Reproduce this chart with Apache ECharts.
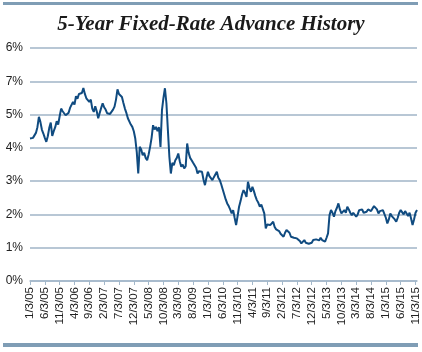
<!DOCTYPE html>
<html>
<head>
<meta charset="utf-8">
<script src="https://cdn.jsdelivr.net/npm/echarts@6/dist/echarts.min.js"></script>
<style>
  html, body { margin: 0; padding: 0; background: #fff; }
  #chart { width: 422px; height: 352px; }
</style>
</head>
<body>
<div id="chart"></div>
<script>
// y tick labels as printed on the original (note the 7%/6% order)
var yTickLabels = ['0%', '1%', '2%', '3%', '4%', '5%', '7%', '6%']

// x tick labels, every 5 months
var xTickLabels = ['1/3/05', '6/3/05', '11/3/05', '4/3/06', '9/3/06', '2/3/07', '7/3/07',
  '12/3/07', '5/3/08', '10/3/08', '3/3/09', '8/3/09', '1/3/10', '6/3/10', '11/3/10',
  '4/3/11', '9/3/11', '2/3/12', '7/3/12', '12/3/12', '5/3/13', '10/3/13', '3/3/14',
  '8/3/14', '1/3/15', '6/3/15', '11/3/15']

// rate, two readings per month (3rd and 18th), Jan 2005 - Nov 2015
var rates = [
  4.28, 4.22, 4.30, 4.24, 4.45, 4.62, 4.93, 4.78, 4.55, 4.43,
  4.30, 4.18, 4.35, 4.60, 4.76, 4.36, 4.50, 4.62, 4.80, 4.70,
  4.95, 5.18, 5.10, 5.08, 4.98, 4.93, 5.05, 5.20, 5.15, 5.38,
  5.30, 5.55, 5.48, 5.62, 5.58, 5.65, 5.80, 5.62, 5.49, 5.55,
  5.38, 5.45, 5.18, 5.08, 5.25, 5.10, 4.89, 5.05, 5.20, 5.34,
  5.22, 5.15, 5.04, 5.10, 5.02, 5.08, 5.15, 5.24, 5.45, 5.76,
  5.62, 5.58, 5.53, 5.35, 5.18, 5.05, 4.89, 4.95, 4.70, 4.63,
  4.50, 4.28, 3.88, 3.23, 4.03, 3.95, 3.78, 3.85, 3.70, 3.63,
  3.80, 4.03, 4.30, 4.68, 4.55, 4.63, 4.50, 4.62, 4.03, 5.13,
  5.50, 5.79, 5.34, 4.53, 3.73, 3.23, 3.55, 3.48, 3.63, 3.70,
  3.83, 3.60, 3.43, 3.50, 3.38, 3.45, 4.13, 3.85, 3.70, 3.63,
  3.55, 3.58, 3.40, 3.23, 3.30, 3.35, 3.28, 3.05, 2.88, 3.10,
  3.28, 3.15, 3.20, 3.03, 3.12, 3.20, 3.28, 3.10, 3.03, 2.90,
  2.75, 2.60, 2.45, 2.33, 2.25, 2.15, 2.03, 2.13, 1.90, 1.68,
  1.95, 2.23, 2.40, 2.60, 2.73, 2.65, 2.53, 2.98, 2.80, 2.68,
  2.83, 2.70, 2.55, 2.43, 2.35, 2.23, 2.30, 2.33, 2.03, 1.58,
  1.70, 1.65, 1.68, 1.72, 1.78, 1.62, 1.55, 1.53, 1.50, 1.42,
  1.38, 1.33, 1.45, 1.53, 1.58, 1.45, 1.33, 1.38, 1.30, 1.35,
  1.28, 1.25, 1.20, 1.13, 1.18, 1.23, 1.15, 1.20, 1.12, 1.08,
  1.15, 1.23, 1.18, 1.25, 1.28, 1.22, 1.30, 1.23, 1.20, 1.18,
  1.30, 1.43, 1.98, 2.13, 2.05, 1.93, 2.10, 2.20, 2.33, 2.15,
  2.03, 2.08, 2.13, 2.05, 2.23, 2.15, 2.05, 1.98, 2.05, 2.10,
  1.93, 2.00, 2.13, 2.08, 2.15, 2.05, 2.10, 2.08, 2.15, 2.20,
  2.10, 2.18, 2.25, 2.28, 2.15, 2.03, 2.10, 2.05, 2.13, 2.08,
  1.90, 1.73, 1.85, 2.03, 1.95, 2.00, 1.85, 1.78, 1.90, 2.05,
  2.13, 2.08, 2.00, 2.10, 2.03, 1.95, 2.05, 1.88, 1.68, 1.85,
  2.05, 2.13
]

// category per reading
var dates = []
for (var i = 0; i < rates.length; i++) {
  var m = Math.floor(i / 2)
  var month = (m % 12) + 1
  var yy = String(5 + Math.floor(m / 12)).padStart(2, '0')
  dates.push(month + '/' + (i % 2 === 0 ? 3 : 18) + '/' + yy)
}

var chart = echarts.init(document.getElementById('chart'))
var options = {
  backgroundColor: '#fff',
  animation: false,
  title: {
    text: '5-Year Fixed-Rate Advance History',
    left: 'center',
    top: 9,
    textStyle: {
      fontFamily: 'Liberation Serif',
      fontStyle: 'italic',
      fontWeight: 'bold',
      fontSize: 21,
      color: '#1a1a1a'
    }
  },
  graphic: [
    { type: 'rect', shape: { x: 3, y: 2, width: 415, height: 3 }, style: { fill: '#7f9db5' } },
    { type: 'rect', shape: { x: 3, y: 343, width: 415, height: 4 }, style: { fill: '#7f9db5' } }
  ],
  grid: {
    left: 30,
    right: 5,
    top: 48,
    bottom: 71
  },
  xAxis: {
    type: 'category',
    data: dates,
    boundaryGap: false,
    axisLine: {
      lineStyle: { color: '#a3b8ca', width: 1.5 }
    },
    axisTick: {
      show: true,
      interval: 9,
      length: 4,
      lineStyle: { color: '#a3b8ca' }
    },
    axisLabel: {
      interval: 9,
      rotate: 90,
      margin: 6,
      fontFamily: 'Liberation Sans',
      fontSize: 11.5,
      color: '#222',
      formatter: function (v, idx) {
        return xTickLabels[idx / 10] || v
      }
    },
    splitLine: { show: false }
  },
  yAxis: {
    type: 'value',
    min: 0,
    max: 7,
    interval: 1,
    axisLine: { show: false },
    axisTick: { show: false },
    axisLabel: {
      margin: 7,
      fontFamily: 'Liberation Sans',
      fontSize: 12,
      color: '#222',
      formatter: function (v) {
        return yTickLabels[Math.round(v)]
      }
    },
    splitLine: {
      show: true,
      lineStyle: { color: '#b8c7d5', width: 2 }
    }
  },
  series: [
    {
      type: 'line',
      data: rates,
      symbol: 'none',
      lineStyle: { color: '#104b80', width: 2 }
    }
  ]
}
chart.setOption(options, true)
</script>
</body>
</html>
